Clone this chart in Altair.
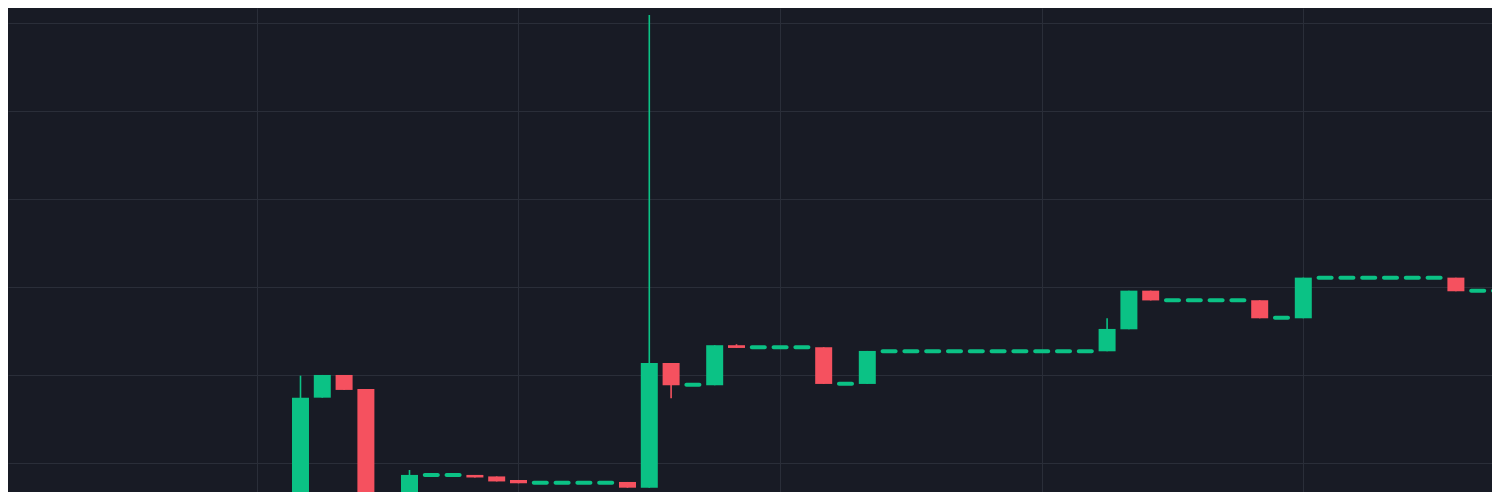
import altair as alt
import pandas as pd

# candle data, one entry per bar (index 0 = first visible candle)
opens = [99.125, 100.742, 101.000, 100.841, 99.523, 99.400, 99.864, 99.864,
         99.864, 99.847, 99.807, 99.776, 99.776, 99.776, 99.776, 99.784,
         99.719, 101.136, 100.890, 100.883, 101.338, 101.315, 101.315, 101.315,
         101.315, 100.901, 100.898, 101.269, 101.269, 101.269, 101.269, 101.269,
         101.269, 101.269, 101.269, 101.269, 101.269, 101.269, 101.519, 101.958,
         101.849, 101.849, 101.849, 101.849, 101.849, 101.651, 101.644, 102.106,
         102.106, 102.106, 102.106, 102.106, 102.106, 102.106, 101.958, 101.958]
highs = [100.992, 101.000, 101.000, 100.841, 99.602, 99.920, 99.864, 99.864,
         99.864, 99.847, 99.807, 99.776, 99.776, 99.776, 99.776, 99.784,
         105.091, 101.136, 100.890, 101.338, 101.349, 101.315, 101.315, 101.315,
         101.315, 100.901, 101.273, 101.269, 101.269, 101.269, 101.269, 101.269,
         101.269, 101.269, 101.269, 101.269, 101.269, 101.644, 101.958, 101.958,
         101.849, 101.849, 101.849, 101.849, 101.849, 101.651, 102.106, 102.106,
         102.106, 102.106, 102.106, 102.106, 102.106, 102.106, 101.958, 101.958]
lows = [99.000, 100.742, 100.830, 99.200, 99.250, 99.350, 99.864, 99.864,
        99.835, 99.790, 99.769, 99.776, 99.776, 99.776, 99.776, 99.719,
        99.719, 100.735, 100.890, 100.883, 101.307, 101.315, 101.315, 101.315,
        100.898, 100.901, 100.898, 101.269, 101.269, 101.269, 101.269, 101.269,
        101.269, 101.269, 101.269, 101.269, 101.269, 101.269, 101.519, 101.847,
        101.849, 101.849, 101.849, 101.849, 101.644, 101.651, 101.644, 102.106,
        102.106, 102.106, 102.106, 102.106, 102.106, 101.951, 101.958, 101.958]
closes = [100.742, 101.000, 100.830, 99.239, 99.300, 99.864, 99.864, 99.864,
          99.835, 99.790, 99.769, 99.776, 99.776, 99.776, 99.776, 99.719,
          101.136, 100.883, 100.890, 101.338, 101.307, 101.315, 101.315, 101.315,
          100.898, 100.901, 101.273, 101.269, 101.269, 101.269, 101.269, 101.269,
          101.269, 101.269, 101.269, 101.269, 101.269, 101.523, 101.958, 101.847,
          101.849, 101.849, 101.849, 101.849, 101.644, 101.651, 102.106, 102.106,
          102.106, 102.106, 102.106, 102.106, 102.106, 101.951, 101.958, 101.958]

x_grid = [-2, 10, 22, 34, 46]
y_grid = [100, 101, 102, 103, 104, 105]

bg = '#181b25'
grid_color = '#2a2e39'
up_color = '#0bc285'
down_color = '#f5515f'

df = pd.DataFrame({
    'idx': list(range(len(opens))),
    'open': opens,
    'high': highs,
    'low': lows,
    'close': closes,
})

x_enc = alt.X('idx:Q',
              scale=alt.Scale(domain=[-13.417, 54.656], nice=False, zero=False, padding=0),
              axis=alt.Axis(values=x_grid, labels=False, ticks=False, domain=False,
                            title=None, gridColor=grid_color, gridWidth=1))
y_scale = alt.Scale(domain=[99.670, 105.170], nice=False, zero=False, padding=0)
color_enc = alt.Color('dir:N',
                      scale=alt.Scale(domain=['up', 'down'], range=[up_color, down_color]),
                      legend=None)

base = alt.Chart(df).transform_calculate(
    dir="datum.close >= datum.open ? 'up' : 'down'"
)

wicks = base.mark_rule(strokeWidth=1.6, clip=True).encode(
    x=x_enc,
    y=alt.Y('low:Q', scale=y_scale,
            axis=alt.Axis(values=y_grid, labels=False, ticks=False, domain=False,
                          title=None, gridColor=grid_color, gridWidth=1)),
    y2='high:Q',
    color=color_enc,
)

bodies = base.mark_bar(size=17, clip=True).encode(
    x='idx:Q',
    y=alt.Y('open:Q', scale=y_scale),
    y2='close:Q',
    color=color_enc,
)

# flat candles (open == close) drawn as short pills
flats = base.transform_filter(
    alt.datum.open == alt.datum.close
).mark_tick(orient='horizontal', size=17, thickness=4, cornerRadius=2,
            opacity=1, clip=True).encode(
    x='idx:Q',
    y=alt.Y('close:Q', scale=y_scale),
    color=color_enc,
)

chart = (wicks + bodies + flats).properties(
    width=1484, height=484, padding=0,
    autosize=alt.AutoSizeParams(type='none'),
    background=bg,
).configure_view(strokeWidth=0, fill=bg)

chart.save('out.html', embed_options={'renderer': 'svg', 'actions': False})
